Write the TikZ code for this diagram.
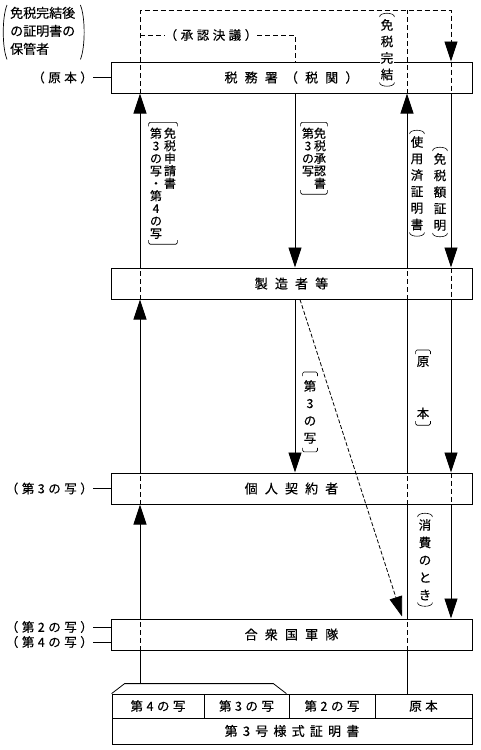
\documentclass[tikz,border=0pt]{standalone}
\usepackage{fontspec}
\setmainfont{Noto Sans CJK JP}[FakeBold=0.4]
\newfontfamily\jwide{Noto Sans CJK JP}[LetterSpace=55,FakeBold=0.4]
\newfontfamily\jmid{Noto Sans CJK JP}[LetterSpace=40,FakeBold=0.4]
\newfontfamily\jnarrow{Noto Sans CJK JP}[LetterSpace=28,FakeBold=0.4]
\usetikzlibrary{arrows.meta,fit}
\tikzset{
	box/.style={draw, line width=1pt, minimum width=361pt, minimum height=31pt, inner sep=0pt, font=\jwide\fontsize{13}{15}\selectfont},
	cell/.style={draw, line width=0.8pt, inner sep=0pt, minimum height=24pt, font=\jnarrow\fontsize{12.5}{14}\selectfont},
	flow/.style={line width=0.8pt},
	arr/.style={flow, -{Triangle[width=13pt,length=20pt]}},
	dsh/.style={line width=0.8pt, dash pattern=on 5pt off 3pt},
	darr/.style={dsh, -{Triangle[width=13pt,length=20pt]}},
	vcol/.style={align=center, inner sep=0pt, font=\fontsize{12}{12.5}\selectfont},
	vlab/.style={align=center, inner xsep=1pt, inner ysep=6pt, font=\fontsize{12.5}{16.5}\selectfont},
	brk/.style={line width=0.6pt, rounded corners=1.5pt},
	side/.style={anchor=east, inner sep=0pt, font=\jnarrow\fontsize{12.5}{14}\selectfont},
}
% cornered brackets above and below a node
\newcommand\vbr[1]{%
	\draw[brk] ([yshift=-4pt]#1.north west) -- (#1.north west) -- (#1.north east) -- ([yshift=-4pt]#1.north east);
	\draw[brk] ([yshift=4pt]#1.south west) -- (#1.south west) -- (#1.south east) -- ([yshift=4pt]#1.south east);}
% round brackets above and below a node
\newcommand\vpar[1]{%
	\draw[line width=0.6pt] ([yshift=-4pt]#1.north west) .. controls ([yshift=1pt]#1.north west) and ([yshift=1pt]#1.north east) .. ([yshift=-4pt]#1.north east);
	\draw[line width=0.6pt] ([yshift=4pt]#1.south west) .. controls ([yshift=-1pt]#1.south west) and ([yshift=-1pt]#1.south east) .. ([yshift=4pt]#1.south east);}

\begin{document}
\begin{tikzpicture}[x=1pt,y=-1pt]
	%%%%% START %%%%%
	\useasboundingbox (0,0) rectangle (480,750);
	
	\coordinate (xA) at (140,10);
	\coordinate (xB) at (295,35);
	\coordinate (xC) at (407,10);
	\coordinate (xD) at (451,10);
	
	%%%%% BOXES %%%%%
	\node[box] (zeimu) at (291.5,77.5) {税務署（税関）};
	\node[box] (seizo) at (291.5,283.5) {製造者等};
	\node[box] (kojin) at (291.5,488.5) {個人契約者};
	\node[box] (gun) at (291.5,634.5) {合衆国軍隊};
	
	%%%%% FORM %%%%%
	\node[cell, minimum width=92pt] (f4) at (158,706) {第4の写};
	\node[cell, minimum width=85pt] (f3) at (246.5,706) {第3の写};
	\node[cell, minimum width=86pt] (f2) at (332,706) {第2の写};
	\node[cell, minimum width=97pt] (fo) at (423.5,706) {原本};
	\node[cell, minimum width=360pt, minimum height=26pt, font=\jmid\fontsize{13}{15}\selectfont] (form) at (292,731) {第3号様式証明書};
	\draw[flow] (f4.north west) -- ++(13,-10) coordinate (trap) -- ([xshift=-16pt,yshift=10pt]f3.north east) -- ([xshift=-3pt]f3.north east);
	
	%%%%% LEFT LINE %%%%%
	\draw[flow] (xA |- trap) -- (xA |- gun.south);
	\draw[dsh] (xA |- gun.south) -- (xA |- gun.north);
	\draw[arr] (xA |- gun.north) -- (xA |- kojin.south);
	\draw[dsh] (xA |- kojin.south) -- (xA |- kojin.north);
	\draw[arr] (xA |- kojin.north) -- (xA |- seizo.south);
	\draw[dsh] (xA |- seizo.south) -- (xA |- seizo.north);
	\draw[arr] (xA |- seizo.north) -- (xA |- zeimu.south);
	\draw[darr] (xA |- zeimu.south) -- (xA) -- (xD) -- (xD |- zeimu.north);
	
	\node[inner sep=0pt, font=\jnarrow\fontsize{12.5}{14}\selectfont] (shonin) at (211,35) {（承認決議）};
	\draw[dsh] (xA |- shonin) -- (shonin.west);
	\draw[dsh] (shonin.east) -- (xB) -- (xB |- zeimu.north);
	
	%%%%% MIDDLE LINE %%%%%
	\draw[arr] (xB |- zeimu.south) -- (xB |- seizo.north);
	\draw[arr] (xB |- seizo.south) -- (xB |- kojin.north);
	\draw[darr, dash pattern=on 4pt off 2pt] ([xshift=5pt]xB |- seizo.south) -- ([xshift=-5pt,yshift=2pt]xC |- gun.north);
	
	%%%%% RIGHT LINES %%%%%
	\draw[flow] (xC |- fo.north) -- (xC |- gun.south);
	\draw[dsh] (xC |- gun.south) -- (xC |- gun.north);
	\draw[flow] (xC |- gun.north) -- (xC |- kojin.south);
	\draw[dsh] (xC |- kojin.south) -- (xC |- kojin.north);
	\draw[flow] (xC |- kojin.north) -- (xC |- seizo.south);
	\draw[dsh] (xC |- seizo.south) -- (xC |- seizo.north);
	\draw[arr] (xC |- seizo.north) -- (xC |- zeimu.south);
	\draw[dsh] (xC |- zeimu.south) -- (xC);
	
	\draw[dsh] (xD |- zeimu.north) -- (xD |- zeimu.south);
	\draw[arr] (xD |- zeimu.south) -- (xD |- seizo.north);
	\draw[dsh] (xD |- seizo.north) -- (xD |- seizo.south);
	\draw[arr] (xD |- seizo.south) -- (xD |- kojin.north);
	\draw[dsh] (xD |- kojin.north) -- (xD |- kojin.south);
	\draw[arr] (xD |- kojin.south) -- (xD |- gun.north);
	
	%%%%% LABELS %%%%%
	\node[anchor=north west, inner sep=0pt, font=\fontsize{13}{18}\selectfont] (keeper) at (10,5) {\begin{tabular}{@{}l@{}}免税完結後\\の証明書の\\保管者\end{tabular}};
	\draw[line width=0.7pt] ([xshift=-3pt]keeper.north west) .. controls ([xshift=-8pt,yshift=-12pt]keeper.north west) and ([xshift=-8pt,yshift=12pt]keeper.south west) .. ([xshift=-3pt]keeper.south west);
	\draw[line width=0.7pt] ([xshift=5pt]keeper.north east) .. controls ([xshift=10pt,yshift=-12pt]keeper.north east) and ([xshift=10pt,yshift=12pt]keeper.south east) .. ([xshift=5pt]keeper.south east);
	
	\node[side] (genpon) at (93,77.5) {（原本）};
	\draw[flow] (genpon.east) -- (zeimu.west);
	\node[side] (dai3) at (93,488.5) {（第3の写）};
	\draw[flow] (dai3.east) -- (kojin.west);
	\node[side] (dai2) at (93,627) {（第2の写）};
	\draw[flow] (dai2.east) -- (dai2.east -| gun.west);
	\node[side] (dai4) at (93,642) {（第4の写）};
	\draw[flow] (dai4.east) -- (dai4.east -| gun.west);
	
	\node[vcol, anchor=north] (shinR) at (170,127.5) {免\\税\\申\\請\\書};
	\node[vcol, anchor=north] (shinL) at (156,127.5) {第\\3\\の\\写\\・\\第\\4\\の\\写};
	\node[fit=(shinR)(shinL), inner xsep=1pt, inner ysep=5pt] (shin) {};
	\vbr{shin}
	
	\node[vcol, anchor=north] (shoR) at (320,127.5) {免\\税\\承\\認\\書};
	\node[vcol, anchor=north] (shoL) at (308,127.5) {第\\3\\の\\写};
	\node[fit=(shoR)(shoL), inner xsep=1pt, inner ysep=5pt] (sho) {};
	\vbr{sho}
	
	\node[vlab, anchor=north, fill=white] (kanketsu) at (387,13) {免\\税\\完\\結};
	\vpar{kanketsu}
	\node[vlab, anchor=north] (shiyo) at (417,130) {使\\用\\済\\証\\明\\書};
	\vpar{shiyo}
	\node[vlab, anchor=north] (gaku) at (440,147) {免\\税\\額\\証\\明};
	\vpar{gaku}
	\node[vlab, anchor=north] (orig) at (423,350) {原\\[35.5pt]本};
	\vbr{orig}
	\node[vlab, anchor=north, inner ysep=8pt, font=\fontsize{12.5}{17.3}\selectfont] (copy3) at (310,372) {第\\3\\の\\写};
	\vbr{copy3}
	\node[vlab, anchor=north, font=\fontsize{12.5}{17.5}\selectfont] (shohi) at (425,513) {消\\費\\の\\と\\き};
	\vpar{shohi}
	
	%%%%% END %%%%%
\end{tikzpicture}
\end{document}
